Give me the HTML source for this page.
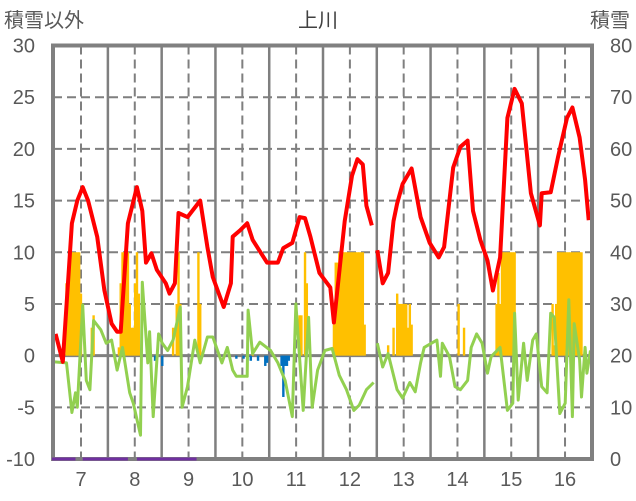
<!DOCTYPE html>
<html><head><meta charset="utf-8"><style>
html,body{margin:0;padding:0;background:#fff;}
svg{display:block;font-family:"Liberation Sans","Noto Sans CJK JP",sans-serif;}
</style></head><body>
<svg id="chart" width="636" height="501" viewBox="0 0 636 501">
<text x="318" y="27" font-size="20" fill="#404040" text-anchor="middle">上川</text>
<text x="4" y="27" font-size="20" fill="#595959">積雪以外</text>
<text x="630" y="27" font-size="20" fill="#595959" text-anchor="end">積雪</text>
<g id="grid"></g><g id="marks"></g><g id="axes"></g>
</svg>
<script>
const monthLabels=[7,8,9,10,11,12,13,14,15,16];
const leftTicks=[-10,-5,0,5,10,15,20,25,30];
const rightTicks=[0,10,20,30,40,50,60,70,80];
const redDays=[2,6,11,14,17,20,25,29,33,36,38,42,47,50,52,55,58,63,65,68,70,75,82,86,89,95,99,100,104,108,111,119,125,128,133,137,140,143,148,154,156,162,166,169,172,174,177,null,180,183,186,189,191,194,199,204,209,214,217,222,226,230,233,237,241,244,248,252,256,260,265,270,271,276,280,285,288,292,295,297];
const redVals=[2.1,-0.6,12.8,15,16.3,15,11.5,6.3,3.1,2.3,2.3,12.8,16.3,14,9,9.9,8.3,7,6,7,13.8,13.4,15,10.5,7.6,4.7,7,11.5,12.1,12.8,11.2,9,9,10.4,10.9,13.4,13.3,11.5,8,6.6,3.2,13,17.4,19,18.5,14.5,12.6,null,10.2,7,8,13,14.7,16.6,18.1,13.4,10.9,9.5,10.5,18.2,20.2,20.8,14,11.2,9.2,6.3,9.5,23,25.8,24.4,15.7,12.6,15.7,15.8,19.2,23,24,21.1,17,13.1];
const greenDays=[0.5,8,11,13,14,17,19,21,23,27,30,33,36,39,43,45,49,50,53,54,56,59,61,64,67,71,72,75,79,82,86,89,94,97,100,102,108,108.5,111,115,121,125,129,133,135,139,142,144,147,151,155,159,163,167,170,174,178,null,180,183,186,191,194,198,201,204,206,213,215,216,220,223,226,230,232,235,238,241,243,248,252,255,256,258,261,263,266,268,271,274,276,278,281,284,286,288,289,292,293,295,296,298];
const greenVals=[-0.6,-0.7,-5.5,-3.6,-5,4.9,-2.4,-3.3,3.4,2.5,1.2,1.5,-1.4,0.8,-3.6,-4.6,-7.7,7.1,-0.7,2.3,-5.9,2.1,1.2,0.5,1.5,4.7,-5,-3,1.5,-0.7,1.8,1.8,-0.7,0.8,-1.4,-2,-2,4.4,0.2,1.3,0.5,-0.7,-2.4,-5.9,5,-5.3,3.7,-5,-1.4,0.5,0.7,-1.9,-3.3,-5.3,-4.8,-3.3,-2.6,null,1.2,-1.1,0.2,-3.3,-4.1,-2.6,-3.5,-0.7,0.8,1.5,-2,1.2,-0.1,-3,-3.3,-2.4,0.8,2.1,1.2,-1.7,-0.1,0.8,-5.3,-4.6,4.1,-4.3,1.2,-2.4,1.5,2.1,-3,-3.6,4.1,3.7,-5.6,-4.6,5.4,-5.9,3.1,-0.4,-4,0.8,-1.7,0.5];
const snowBarDays=[8,9,10,11,12,13,14,15,16,22,23,37,38,39,40,41,42,43,44,45,46,47,48,67,69,70,71,81,82,111,137,138,140,141,156,157,158,159,160,161,162,163,164,165,166,167,168,169,170,171,172,173,186,189,191,192,193,194,195,196,197,198,199,225,228,246,247,248,249,250,251,252,253,254,255,256,277,278,279,280,281,282,283,284,285,286,287,288,289,290,291,292,293];
const snowBarVals=[7,7,10,10,10,10,10,10,6,2.7,3.9,0.8,7,10,10,10,10,5,2.7,2.7,7,10,6,2.7,5,10,5,10,5,0.8,3.9,3.9,10,7,3,9,9,10,10,10,10,10,10,10,10,10,10,10,10,10,10,3,1,2.7,6,5,5,5,5,5,2.7,5,3,5,2.7,5,8,5,10,10,10,10,10,10,10,10,5,1,5,10,10,10,10,10,10,10,10,10,10,10,10,10,10,5];
const negBarDays=[57,61,102,106,110,114,118,119,127,128,129,130,131];
const negBarVals=[-0.5,-1,-0.3,-0.3,-0.5,-0.5,-1,-0.7,-1,-4,-1,-1,-0.5];
const purpleRanges=[[0,13],[17,42],[47,80]];

const NS='http://www.w3.org/2000/svg';
const L=53,R=592,T=45.5,B=459;
const x=d=>52+d*1.807;
const y=v=>B-(v+10)*(B-T)/40;
const mx=m=>81+(m-7)*53.78;
function mk(tag,parent){const e=document.createElementNS(NS,tag);parent.appendChild(e);return e;}
const grid=document.getElementById('grid'),marks=document.getElementById('marks'),axes=document.getElementById('axes');
leftTicks.forEach(t=>{
  if(t===-10||t===30)return;
  const l=mk('line',grid);
  
  
  l.setAttribute('x1',L);l.setAttribute('x2',R);l.setAttribute('y1',y(t));l.setAttribute('y2',y(t));
  if(t===0){l.setAttribute('stroke','#808080');l.setAttribute('stroke-width','3');}
  else{l.setAttribute('stroke','#7f7f7f');l.setAttribute('stroke-width','2');l.setAttribute('stroke-dasharray','9,5');}
});
monthLabels.forEach((m,i)=>{
  const l=mk('line',grid);
  
  
  l.setAttribute('x1',mx(m));l.setAttribute('x2',mx(m));l.setAttribute('y1',T);l.setAttribute('y2',B);
  l.setAttribute('stroke','#7f7f7f');l.setAttribute('stroke-width','2');l.setAttribute('stroke-dasharray','9,5');
  if(i<monthLabels.length-1){
    const s=mk('line',grid);
    
    
    const xb=mx(m+0.5);
    s.setAttribute('x1',xb);s.setAttribute('x2',xb);s.setAttribute('y1',T);s.setAttribute('y2',B);
    s.setAttribute('stroke','#7f7f7f');s.setAttribute('stroke-width','2.5');
  }
  const tx=mk('text',axes);
  
  
  tx.setAttribute('x',mx(m));tx.setAttribute('y',486);tx.setAttribute('font-size','20');tx.setAttribute('fill','#595959');tx.setAttribute('text-anchor','middle');
  tx.textContent=m;
});
snowBarDays.forEach((d,i)=>{
  const r=mk('rect',marks);
  
  
  const v=snowBarVals[i];
  r.setAttribute('x',x(d)-1.15);r.setAttribute('width',2.4);r.setAttribute('y',y(v));r.setAttribute('height',y(0)-y(v));r.setAttribute('fill','#ffc000');
});
negBarDays.forEach((d,i)=>{
  const r=mk('rect',marks);
  
  
  const v=negBarVals[i];
  r.setAttribute('x',x(d)-1.15);r.setAttribute('width',2.4);r.setAttribute('y',y(0));r.setAttribute('height',y(v)-y(0));r.setAttribute('fill','#0070c0');
});
function pathFrom(ds,vs){let p='',pen=false;ds.forEach((d,i)=>{if(d===null||vs[i]===null){pen=false;return;}p+=(pen?'L':'M')+x(d).toFixed(1)+','+y(vs[i]).toFixed(1);pen=true;});return p;}
const g=mk('path',marks);


g.setAttribute('d',pathFrom(greenDays,greenVals));g.setAttribute('fill','none');g.setAttribute('stroke','#92d050');g.setAttribute('stroke-width','3');g.setAttribute('stroke-linejoin','round');
const rl=mk('path',marks);


rl.setAttribute('d',pathFrom(redDays,redVals));rl.setAttribute('fill','none');rl.setAttribute('stroke','#ff0000');rl.setAttribute('stroke-width','4');rl.setAttribute('stroke-linejoin','round');
const fr=mk('rect',axes);


fr.setAttribute('x',L);fr.setAttribute('y',T);fr.setAttribute('width',R-L);fr.setAttribute('height',B-T);fr.setAttribute('fill','none');fr.setAttribute('stroke','#808080');fr.setAttribute('stroke-width','4');
purpleRanges.forEach(r=>{
  const l=mk('line',axes);
  
  
  l.setAttribute('x1',x(r[0]));l.setAttribute('x2',x(r[1]));l.setAttribute('y1',B);l.setAttribute('y2',B);l.setAttribute('stroke','#7030a0');l.setAttribute('stroke-width','3');
});
leftTicks.forEach(t=>{
  const tx=mk('text',axes);
  
  
  tx.setAttribute('x',35);tx.setAttribute('y',y(t)+7);tx.setAttribute('font-size','20');tx.setAttribute('fill','#595959');tx.setAttribute('text-anchor','end');
  tx.textContent=t;
});
rightTicks.forEach((t,i)=>{
  const tx=mk('text',axes);
  
  
  tx.setAttribute('x',610);tx.setAttribute('y',y(leftTicks[i])+7);tx.setAttribute('font-size','20');tx.setAttribute('fill','#595959');
  tx.textContent=t;
});
</script>
</body></html>
